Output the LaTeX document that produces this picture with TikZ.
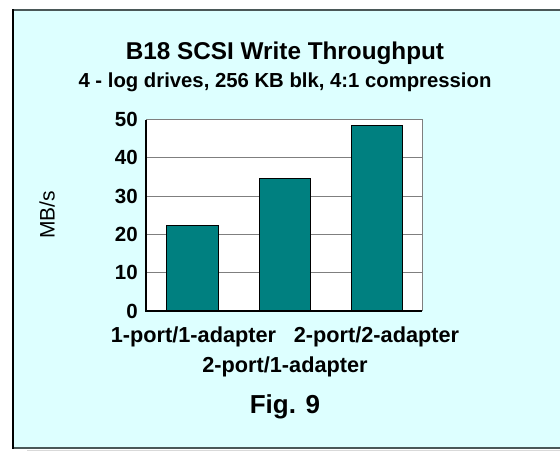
\documentclass[tikz,border=0pt]{standalone}
\usepackage{fontspec}
\setmainfont{Liberation Sans}
\usepackage{xcolor}
\usepackage{tikz}
\usetikzlibrary{positioning}
\definecolor{panelcyan}{HTML}{DDFFFF}
\definecolor{barteal}{HTML}{008080}
\definecolor{framegray}{HTML}{4A5858}
\definecolor{gridgray}{HTML}{7F7F7F}
\begin{document}
\begin{tikzpicture}[x=1pt, y=-1pt,
  ticklabel/.style={anchor=east, inner sep=0pt, font=\bfseries\fontsize{20.5}{24}\selectfont},
  catlabel/.style={inner sep=0pt, font=\bfseries\fontsize{21.7}{25}\selectfont},
  databar/.style={fill=barteal, draw=black, line width=1pt}]
\useasboundingbox (0,0) rectangle (560,451);
% panel
\fill[panelcyan] (13,10) rectangle (562,448);
\draw[framegray, line width=2pt] (13,10) -- (562,10);
\draw[framegray, line width=2pt] (13,448) -- (562,448);
\draw[black!15, line width=1.5pt] (27,450.5) -- (562,450.5);
\draw[black, line width=1.5pt] (13,9) -- (13,449);
% titles
\node[font=\bfseries\fontsize{24.3}{28}\selectfont] (title) at (285,53) {B18 SCSI Write Throughput};
\node[font=\bfseries\fontsize{20.3}{24}\selectfont] (subtitle) at (285,82) {4 - log drives, 256 KB blk, 4:1 compression};
% plot
\begin{scope}[shift={(146,311)}, y=3.83pt]
\fill[white] (0,0) rectangle (276,50);
\foreach \v in {10,20,30,40} \draw[gridgray, line width=1pt] (0,\v) -- (276,\v);
\draw[gridgray, line width=1pt] (0,50) -- (276,50) -- (276,0);
\foreach \xa/\xb/\val in {20/72/22.4, 113/164/34.5, 205/256/48.5}
  \draw[databar] (\xa,0) rectangle (\xb,\val);
\draw[black, line width=1.5pt] (0,50) -- (0,0) -- (276,0);
\foreach \v in {0,10,...,50} \node[ticklabel] (tick\v) at (-8,\v) {\v};
\end{scope}
\node[rotate=90, font=\fontsize{21}{25}\selectfont] (ylabel) at (47,215) {MB/s};
% categories
\node[catlabel] (cat1) at (193.5,337) {1-port/1-adapter};
\node[catlabel] (cat3) at (376.5,337) {2-port/2-adapter};
\node[catlabel] (cat2) at (285,367) {2-port/1-adapter};
\node[font=\bfseries\fontsize{26}{30}\selectfont] (fig) at (285,407) {Fig. 9};
\end{tikzpicture}
\end{document}
